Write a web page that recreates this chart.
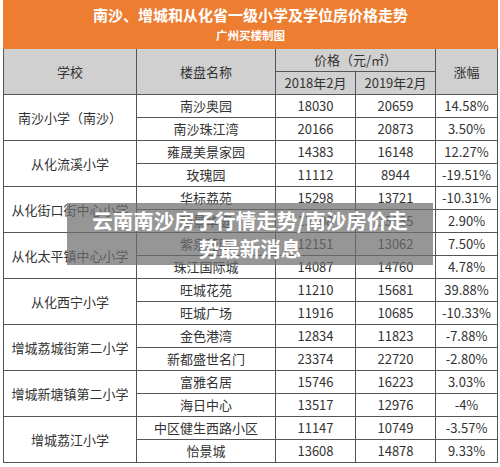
<!DOCTYPE html>
<html><head><meta charset="utf-8">
<script src="https://cdn.jsdelivr.net/npm/chart.js@4"></script>
<style>
body{margin:0;background:#fff;font-family:"Noto Sans CJK SC","Noto Sans",sans-serif;width:500px;height:467px;overflow:hidden;position:relative}
table{position:absolute;left:3px;top:0;width:494px;border-collapse:collapse;table-layout:fixed;color:#333;font-size:13px}
td{border:1px solid #555;text-align:center;padding:0;height:22px;line-height:22px;white-space:nowrap;overflow:hidden}
.t{background:#ed7d31;color:#fff;font-weight:bold;border-color:#ed7d31;line-height:19px;height:47px;font-size:15px}
.t small{font-size:11.5px}
.h{background:#d0d0d0;font-size:13px}
.ov{position:absolute;left:67px;top:203px;width:366px;height:62px;background:rgba(110,110,110,0.72);color:#fff;font-weight:bold;font-size:20.5px;line-height:28px;text-align:center;padding-top:3px;box-sizing:border-box;white-space:nowrap}
</style></head><body>
<table id="tb">
<colgroup><col style="width:133px"><col style="width:139px"><col style="width:80px"><col style="width:80px"><col style="width:62px"></colgroup>
</table>
<div class="ov">云南南沙房子行情走势/南沙房价走<br>势最新消息</div>
<script>
const schools=["南沙小学（南沙）","从化流溪小学","从化街口街中心小学","从化太平镇中心小学","从化西宁小学","增城荔城街第二小学","增城新塘镇第二小学","增城荔江小学"];
const estates=["南沙奥园","南沙珠江湾","雍晟美景家园","玫瑰园","华标荔苑","骏景华庭","紫泉花园","珠江国际城","旺城花苑","旺城广场","金色港湾","新都盛世名门","富雅名居","海日中心","中区健生西路小区","怡景城"];
const price2018=[18030,20166,14383,11112,15298,13008,12151,14087,11210,11916,12834,23374,15746,13517,11147,13608];
const price2019=[20659,20873,16148,8944,13721,13385,13062,14760,15681,10685,11823,22720,16223,12976,10749,14878];
const change=["14.58%","3.50%","12.27%","-19.51%","-10.31%","2.90%","7.50%","4.78%","39.88%","-10.33%","-7.88%","-2.80%","3.03%","-4%","-3.57%","9.33%"];
const tb=document.getElementById('tb');
let h='<tr><td class="t" colspan="5">南沙、增城和从化省一级小学及学位房价格走势<br><small>广州买楼制图</small></td></tr>';
h+='<tr><td class="h" rowspan="2">学校</td><td class="h" rowspan="2">楼盘名称</td><td class="h" colspan="2">价格（元/㎡）</td><td class="h" rowspan="2">涨幅</td></tr>';
h+='<tr><td class="h">2018年2月</td><td class="h">2019年2月</td></tr>';
estates.forEach((e,i)=>{
 h+='<tr>'+(i%2===0?'<td rowspan="2">'+schools[i/2]+'</td>':'')+'<td>'+e+'</td><td>'+price2018[i]+'</td><td>'+price2019[i]+'</td><td>'+change[i]+'</td></tr>';
});
tb.innerHTML+=h;
</script>
</body></html>
